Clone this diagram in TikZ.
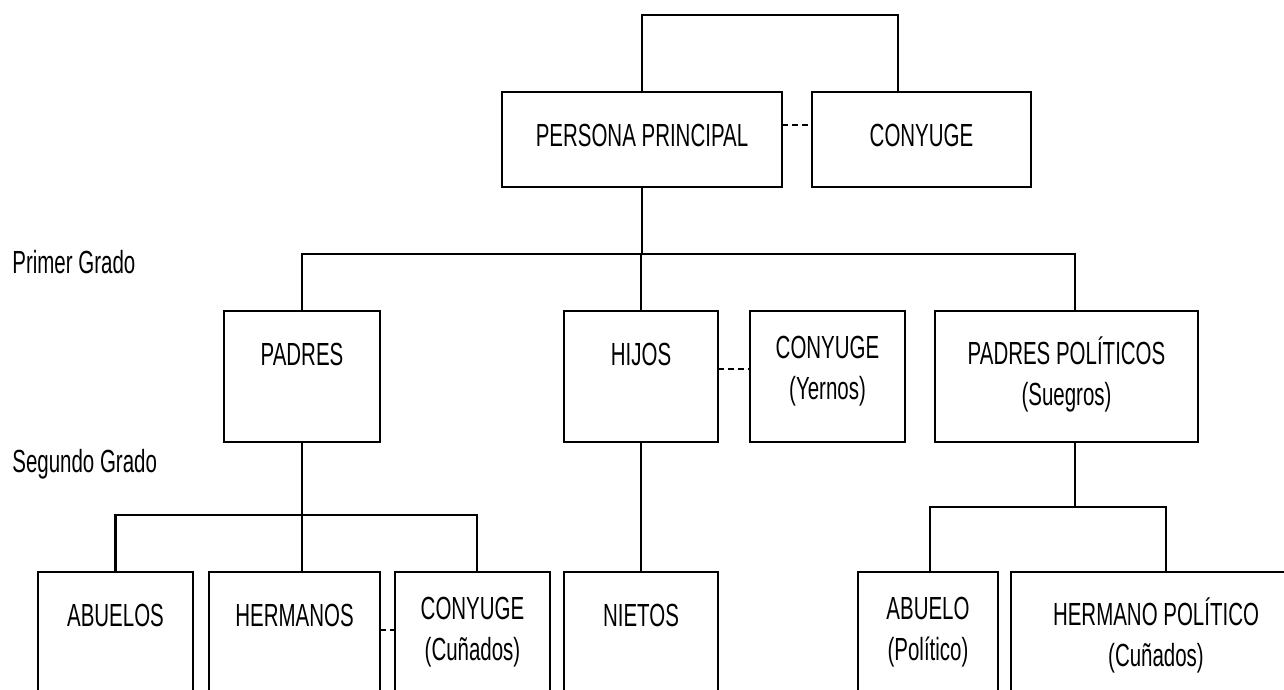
\documentclass[tikz,border=0pt]{standalone}
\usepackage{fontspec}
\setmainfont{Liberation Sans}[FakeStretch=0.64]
\usetikzlibrary{positioning}

\begin{document}
\begin{tikzpicture}[x=0.5pt,y=-0.5pt,font=\fontsize{16pt}{20.5pt}\selectfont,box/.style={draw,rectangle,line width=1.3pt,inner sep=0pt,outer sep=0pt,minimum width=77.5pt,minimum height=65.5pt}, txt/.style={anchor=north,yshift=-12.6pt,inner sep=0pt,align=center,execute at begin node=\strut}, grado/.style={anchor=base west,inner sep=0pt}, link/.style={line width=1.1pt}, pair/.style={line width=1.1pt,dash pattern=on 3pt off 2pt}]
        \path[use as bounding box,clip] (0,0) rectangle (1284,690);

        \node[box,minimum width=140pt,minimum height=47.5pt,label={[txt]north:PERSONA PRINCIPAL}] (pp) at (642,139.5) {};
        \node[box,minimum width=109.5pt,minimum height=47.5pt,label={[txt]north:CONYUGE}] (cy0) [right = 15pt of pp] {};

        \node[box,minimum width=78pt,label={[txt]north:PADRES}] (padres) at (302,376.5) {};
        \node[box,minimum width=77pt,label={[txt]north:HIJOS}] (hijos) [right = 92pt of padres] {};
        \node[box,label={[txt]north:CONYUGE\\(Yernos)}] (cy1) [right = 16pt of hijos] {};
        \node[box,minimum width=131.5pt,label={[txt]north:PADRES POLÍTICOS\\(Suegros)}] (ppol) [right = 15pt of cy1] {};

        \node[box,minimum height=70pt,label={[txt]north:ABUELOS}] (abuelos) at (115.5,642) {};
        \node[box,minimum width=85.5pt,minimum height=70pt,label={[txt]north:HERMANOS}] (hermanos) [right = 8pt of abuelos] {};
        \node[box,minimum height=70pt,label={[txt]north:CONYUGE\\(Cuñados)}] (cy2) [right = 7.5pt of hermanos] {};
        \node[box,minimum width=77pt,minimum height=70pt,label={[txt]north:NIETOS}] (nietos) [right = 7pt of cy2] {};
        \node[box,minimum width=70pt,minimum height=70pt,label={[txt]north:ABUELO\\(Político)}] (abuelo) [right = 70pt of nietos] {};
        \node[box,minimum width=145pt,minimum height=70pt,label={[txt]north:HERMANO POLÍTICO\\(Cuñados)}] (hpol) [right = 6.5pt of abuelo] {};

        \node[grado] (g1) at (12,273) {Primer Grado};
        \node[grado] (g2) at (12,472) {Segundo Grado};

        \coordinate (top) at (898,15);
        \coordinate (b1) at (642,254);
        \coordinate (b1r) at (1075,254);
        \coordinate (b2) at (302,515);
        \coordinate (b2r) at (477,515);
        \coordinate (b3) at (1075,507);
        \coordinate (b3l) at (930,507);
        \coordinate (b3r) at (1166,507);

        \draw[link] (pp.north) |- (top) -- (top |- cy0.north);
        \path ([yshift=7.25pt]pp.east) edge[pair] ([yshift=7.25pt]cy0.west);

        \path (pp.south) edge[link] (b1);
        \draw[link] (padres.north) |- (b1r) -- (b1r |- ppol.north);
        \path (hijos.north) edge[link] (hijos.north |- b1);
        \path ([yshift=3.75pt]hijos.east) edge[pair] ([yshift=3.75pt]cy1.west);

        \path (padres.south) edge[link] (b2 |- hermanos.north);
        \draw[link] (abuelos.north) |- (b2r) -- (b2r |- cy2.north);
        \path ([yshift=6pt]hermanos.east) edge[pair] ([yshift=6pt]cy2.west);

        \path (hijos.south) edge[link] (nietos.north);

        \path (b3 |- ppol.south) edge[link] (b3);
        \draw[link] (b3l |- abuelo.north) |- (b3r) -- (b3r |- hpol.north);
    \end{tikzpicture}
\end{document}
